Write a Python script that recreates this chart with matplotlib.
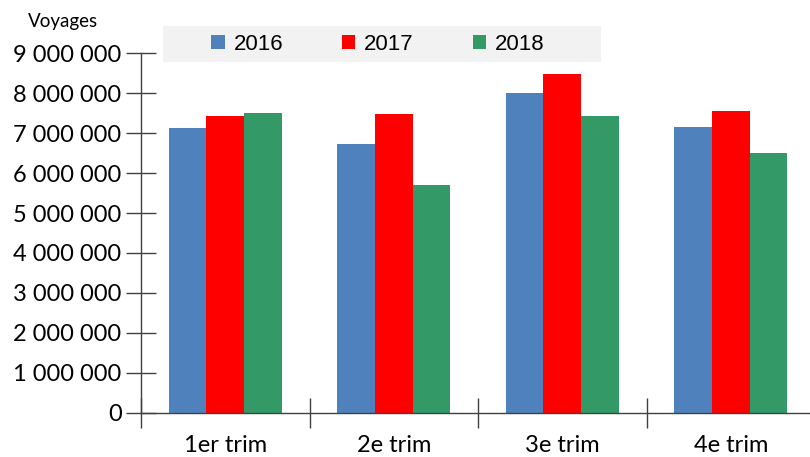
import numpy as np
import matplotlib.pyplot as plt
from matplotlib.patches import Patch, Rectangle

categories = ["1er trim", "2e trim", "3e trim", "4e trim"]
years = ["2016", "2017", "2018"]
v2016 = [7130000, 6730000, 8010000, 7160000]
v2017 = [7430000, 7480000, 8480000, 7560000]
v2018 = [7510000, 5700000, 7430000, 6500000]
yticks = [0, 1000000, 2000000, 3000000, 4000000, 5000000, 6000000, 7000000, 8000000, 9000000]

colors = ["#4f81bd", "#ff0000", "#339966"]
W, H = 810, 457

fig = plt.figure(figsize=(W / 100, H / 100), dpi=100)
ax = fig.add_axes([141 / W, (H - 412.7) / H, (815 - 141) / W, (412.7 - 53.3) / H])

x = np.arange(len(categories))
w = 0.224
for i, (vals, c) in enumerate(zip([v2016, v2017, v2018], colors)):
    ax.bar(x + (i - 1) * w, vals, width=w, color=c, linewidth=0, zorder=2)

ax.set_xlim(-0.5, 3.5)
ax.set_ylim(0, 9000000)

for s in ["top", "right"]:
    ax.spines[s].set_visible(False)
for s in ["left", "bottom"]:
    ax.spines[s].set_color("#404040")
    ax.spines[s].set_linewidth(1)

ax.set_yticks(yticks)
ax.set_yticklabels([f"{v:,}".replace(",", " ") for v in yticks])
ax.tick_params(axis="y", direction="inout", length=22, width=1, color="#404040",
               labelsize=17, pad=3)
ax.set_xticks(x)
ax.set_xticklabels(categories)
ax.tick_params(axis="x", which="major", length=0, labelsize=17, pad=16)
ax.set_xticks(np.arange(-0.5, 3.6, 1.0), minor=True)
ax.tick_params(axis="x", which="minor", direction="inout", length=21, width=1, color="#404040")
for lab in ax.get_xticklabels() + ax.get_yticklabels():
    lab.set_fontfamily("Lato")

fig.text(28 / W, 1 - 21 / H, "Voyages", fontsize=13.5, family="Lato", va="center", ha="left")

# legend background
fig.patches.append(Rectangle((163 / W, 1 - 62 / H), (601 - 163) / W, 36 / H,
                             transform=fig.transFigure, facecolor="#f2f2f2",
                             edgecolor="none", zorder=0))
handles = [Patch(facecolor=c, edgecolor="none") for c in colors]
fig.legend(handles, years, loc="center", bbox_to_anchor=(378 / W, 1 - 44 / H), ncol=3,
           frameon=False, prop={"family": "Liberation Sans", "size": 16},
           handlelength=0.6, handleheight=0.6, handletextpad=0.4, columnspacing=2.65)

fig.savefig("out.png", dpi=100)
